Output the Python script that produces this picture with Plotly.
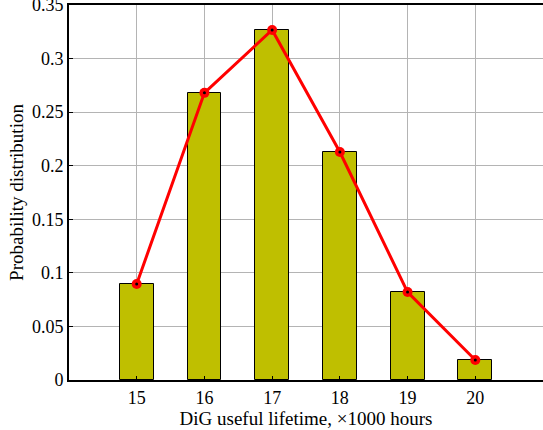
import plotly.graph_objects as go

lifetime = [15, 16, 17, 18, 19, 20]
probability = [0.0896, 0.268, 0.3267, 0.2128, 0.0821, 0.0187]
x_ticks = [15, 16, 17, 18, 19, 20]
y_ticks = [0, 0.05, 0.1, 0.15, 0.2, 0.25, 0.3, 0.35]
y_labels = ["0", "0.05", "0.1", "0.15", "0.2", "0.25", "0.3", "0.35"]

fam = "Liberation Serif, Times New Roman, serif"
tick_font = dict(family=fam, size=18, color="black")
title_font = dict(family=fam, size=19, color="black")

fig = go.Figure()
fig.add_trace(go.Bar(
    x=lifetime, y=probability, width=0.5,
    marker=dict(color="#BFBF00", line=dict(color="black", width=1)),
    showlegend=False,
))
fig.add_trace(go.Scatter(
    x=lifetime, y=probability, mode="lines+markers",
    line=dict(color="#FF0000", width=3),
    marker=dict(color="#FF0000", size=10, line=dict(color="#FF0000", width=0)),
    showlegend=False,
))
fig.add_trace(go.Scatter(
    x=lifetime, y=probability, mode="markers",
    marker=dict(color="black", size=3),
    showlegend=False,
))

# top tick label (plotly drops it because it overflows the page edge)
fig.add_annotation(
    x=0, xref="paper", y=y_ticks[-1], yref="y",
    text=y_labels[-1], showarrow=False,
    xanchor="right", yanchor="middle", xshift=-3,
    font=tick_font,
)

fig.update_layout(
    width=543, height=430,
    margin=dict(l=69, r=0, t=5, b=50),
    paper_bgcolor="white", plot_bgcolor="white",
    font=tick_font,
    bargap=0,
    xaxis=dict(
        range=[14, 21], tickvals=x_ticks, ticktext=[str(v) for v in x_ticks],
        automargin=False,
        showgrid=True, gridcolor="#b4b4b4", gridwidth=1,
        showline=True, linecolor="black", linewidth=2, mirror=True,
        ticks="inside", ticklen=4, tickcolor="black",
        zeroline=False,
        title=dict(text="DiG useful lifetime, ×1000 hours", font=title_font, standoff=2),
        tickfont=tick_font,
    ),
    yaxis=dict(
        range=[0, 0.35], tickvals=y_ticks, ticktext=y_labels,
        automargin=False,
        showgrid=True, gridcolor="#b4b4b4", gridwidth=1,
        showline=True, linecolor="black", linewidth=2, mirror=True,
        ticks="inside", ticklen=4, tickcolor="black",
        zeroline=False,
        title=dict(text="Probability distribution", font=title_font, standoff=3),
        tickfont=tick_font,
    ),
)

fig.write_html(
    "out.html",
    config={"displayModeBar": False},
    post_script="document.body.style.margin='0px';document.body.style.overflow='hidden';",
)
